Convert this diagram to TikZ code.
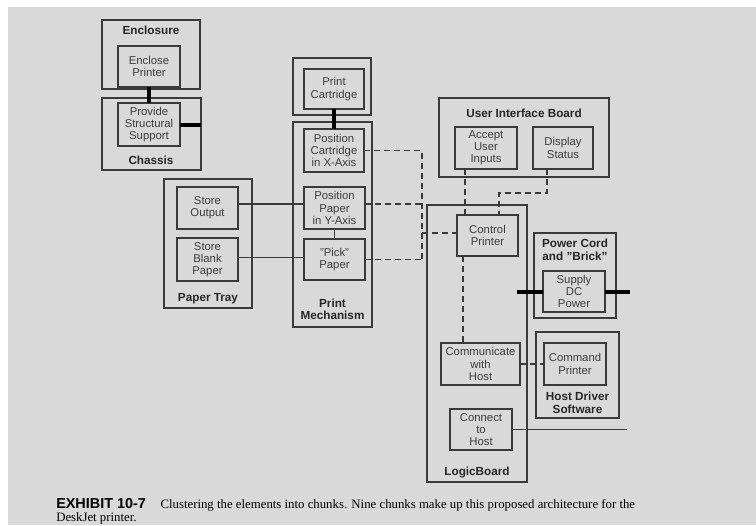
\documentclass[tikz,border=0pt]{standalone}
\usepackage{fontspec}
\setmainfont{Liberation Sans}[Ligatures=ResetAll]
\newfontfamily\capserif{Liberation Serif}
\definecolor{bg}{HTML}{D9D9D9}
\definecolor{boxc}{HTML}{3A3A3A}
\definecolor{txtc}{HTML}{3C3C3C}
\definecolor{ttlc}{HTML}{262626}
\newcommand\dq{\char34\relax}
% \bx[style]{name}{x1}{y1}{x2}{y2}{text}
\newcommand\bx[7][frame]{\node[#1, minimum width={(#5-#3)*0.75pt}, minimum height={(#6-#4)*0.75pt}] (#2) at ({(#3+#5)/2},{(#4+#6)/2}) {#7};}
\begin{document}
\begin{tikzpicture}[x=0.75pt,y=-0.75pt,
  frame/.style={draw=boxc, line width=1.2pt, inner sep=0pt, outer sep=0pt},
  ibox/.style={frame, align=center, text=txtc, font=\fontsize{8.5}{9.2}\selectfont},
  ttl/.style={align=center, text=ttlc, font=\bfseries\fontsize{8.8}{9.4}\selectfont, inner sep=0pt},
  heavy/.style={line width=3pt, draw=black},
  tlink/.style={line width=0.9pt, draw=boxc},
  dlink/.style={line width=1pt, draw=boxc, dash pattern=on 4.5pt off 3pt}]
\useasboundingbox (0,0) rectangle (756,525);
\fill[white] (0,0) rectangle (756,525);
\fill[bg] (8,7) rectangle (756,525);

% group frames
\bx{enclosure}{102}{20}{200}{89}{}
\bx{chassis}{102}{98}{201}{170}{}
\bx{cartgrp}{293}{58}{371}{115}{}
\bx{printmech}{293}{122}{372}{327}{}
\bx{papertray}{164}{179}{252}{308}{}
\bx{uib}{439}{98}{609}{177}{}
\bx{logic}{427}{205}{527}{482}{}
\bx{power}{534}{233}{616}{318}{}
\bx{hostdrv}{536}{332}{619}{418}{}

% group titles
\node[ttl] (t-enc) at (151,30) {Enclosure};
\node[ttl] (t-cha) at (151,160) {Chassis};
\node[ttl] (t-pt) at (208,299) {Paper Tray};
\node[ttl] (t-pm) at (332.5,309.5) {Print\\Mechanism};
\node[ttl] (t-uib) at (524,113) {User Interface Board};
\node[ttl] (t-lb) at (477,472) {LogicBoard};
\node[ttl] (t-pw) at (575,250) {Power Cord\\and \dq Brick\dq};
\node[ttl] (t-hd) at (577.5,403) {Host Driver\\Software};

% function boxes
\bx[ibox]{enclose}{118}{46}{180}{87}{Enclose\\Printer}
\bx[ibox]{support}{118}{103}{180}{146}{Provide\\Structural\\Support}
\bx[ibox]{cart}{304}{69}{364}{109}{Print\\Cartridge}
\bx[ibox]{posx}{304}{129}{364}{172}{Position\\Cartridge\\in X-Axis}
\bx[ibox]{posy}{304}{187}{365}{229}{Position\\Paper\\in Y-Axis}
\bx[ibox]{pick}{304}{239}{365}{280}{\dq Pick\dq\\Paper}
\bx[ibox]{storeout}{177}{187}{238}{229}{Store\\Output}
\bx[ibox]{storeblank}{177}{238}{238}{281}{Store\\Blank\\Paper}
\bx[ibox]{accept}{455}{127}{517}{169}{Accept\\User\\Inputs}
\bx[ibox]{display}{533}{127}{593}{169}{Display\\Status}
\bx[ibox]{control}{457}{215}{518}{256}{Control\\Printer}
\bx[ibox]{supply}{543}{271}{605}{312}{Supply\\DC\\Power}
\bx[ibox]{comm}{441}{343}{520}{385}{Communicate\\with\\Host}
\bx[ibox]{command}{544}{343}{606}{385}{Command\\Printer}
\bx[ibox]{connect}{450}{409}{512}{450}{Connect\\to\\Host}

% heavy links
\draw[heavy] (enclose.south) -- (support.north);
\draw[heavy] (support.east) -- (support.east -| chassis.east);
\draw[heavy] (cart.south) -- (posx.north);
\coordinate (pl) at (517,291.5);
\coordinate (pr) at (630,291.5);
\draw[heavy] (pl) -- (supply.west);
\draw[heavy] (supply.east) -- (pr);

% thin solid links
\draw[tlink] (posy.south) -- (pick.north);
\draw[tlink] ([yshift=3pt]storeout.east) -- ([yshift=3pt]posy.west);
\draw[tlink] ([yshift=1.5pt]storeblank.east) -- ([yshift=1.5pt]pick.west);
\coordinate (hostend) at (627,429.5);
\draw[tlink] (connect.east) -- (hostend);

% dashed links
\coordinate (jbot) at (422,259.5);
\coordinate (jmid) at (422,233);
\draw[dlink] (posx.east) -| (jbot);
\draw[dlink] ([yshift=3pt]posy.east) -- ([yshift=3pt]posy.east -| jbot);
\draw[dlink] (pick.east) -- (jbot);
\draw[dlink] (jmid) -- (jmid -| control.west);
\draw[dlink] ([xshift=-15.75pt]accept.south) -- ([xshift=-15.75pt]accept.south |- control.north);
\coordinate (db1) at (547,193);
\coordinate (db2) at (499,193);
\draw[dlink] (display.south -| db1) -- (db1) -- (db2) -- (db2 |- control.north);
\coordinate (cx) at (463,0);
\draw[dlink] (control.south -| cx) -- (comm.north -| cx);
\draw[dlink] (comm.east) -- (command.west);

% caption
\node[anchor=base west, inner sep=0pt] (cap1) at (56,508)
  {{\bfseries\fontsize{10.8}{12}\selectfont EXHIBIT 10-7}\hspace{11pt}{\capserif\fontsize{9.6}{11}\selectfont Clustering the elements into chunks. Nine chunks make up this proposed architecture for the}};
\node[anchor=base west, inner sep=0pt] (cap2) at (56,521)
  {\capserif\fontsize{9.6}{11}\selectfont DeskJet printer.};
\end{tikzpicture}
\end{document}
